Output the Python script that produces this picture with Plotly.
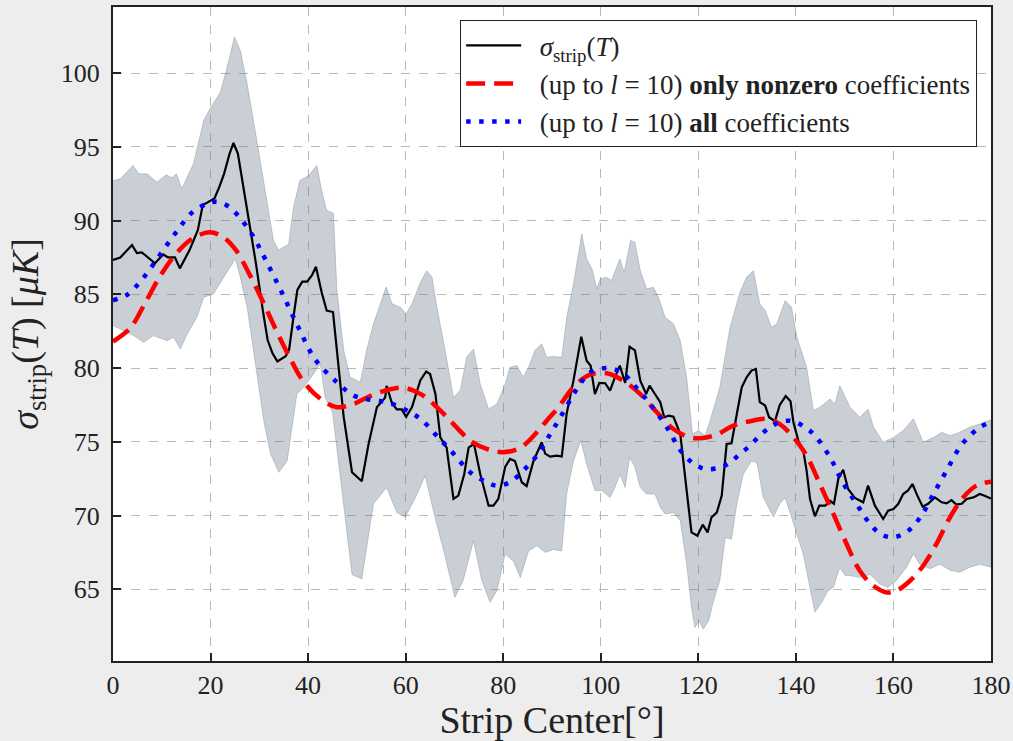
import plotly.graph_objects as go

# ---- data ----
black_x = [0, 1.5, 3.9, 4.9, 5.9, 8.6, 10.3, 11.3, 12.7, 13.7, 15.7, 17.4, 18.4, 19.5, 20.8, 21.8, 22.8, 23.9, 24.7, 25.6,
           26.6, 27.9, 29.3, 30.7, 31.7, 32.7, 33.7, 35.4, 36.1, 37.1, 37.8, 38.8, 39.8, 40.8, 41.6, 42.8, 43.8, 45.1, 45.9,
           47.3, 49.0, 51.0, 52.4, 54.1, 55.8, 56.1, 57.2, 58.2, 59.2, 60.1, 61.3, 63.0, 64.2, 65.0, 66.1, 67.1, 68.4, 69.8,
           70.8, 72.0, 72.9, 74.0, 75.3, 77.0, 78.0, 79.0, 80.4, 81.4, 82.4, 83.8, 84.8, 86.2, 87.9, 88.6, 89.6, 91.0, 92.0,
           93.0, 94.4, 96.0, 97.1, 97.9, 98.8, 99.7, 100.9, 101.9, 102.9, 103.9, 105.0, 105.9, 107.0, 108.1, 109.3, 110.0,
           111.1, 112.2, 113.0, 113.9, 114.9, 116.3, 117.6, 118.6, 119.8, 120.9, 121.9, 122.7, 123.8, 124.8, 125.8, 126.8,
           127.9, 128.9, 129.9, 130.9, 131.8, 132.6, 133.7, 134.5, 135.7, 136.7, 137.9, 138.9, 139.5, 140.5, 141.5, 142.2,
           142.9, 143.9, 144.8, 146.0, 147.0, 147.8, 148.7, 149.7, 150.7, 152.1, 153.8, 154.8, 156.2, 157.9, 158.9, 160.0,
           161.0, 162.0, 163.0, 163.9, 164.9, 166.0, 167.1, 168.5, 169.9, 170.9, 171.9, 172.9, 174.0, 175.0, 176.4, 177.7,
           178.7, 180.0]
black_y = [87.33, 87.5, 88.34, 87.8, 87.85, 87.1, 87.7, 87.5, 87.5, 86.76, 88.0, 89.36, 91.05, 91.27, 91.5, 92.29, 93.2,
           94.54, 95.26, 94.54, 92.5, 90.0, 87.1, 83.94, 81.9, 81.0, 80.45, 80.8, 81.25, 83.7, 85.3, 85.86, 85.86, 86.3,
           86.87, 85.1, 83.9, 83.8, 81.2, 76.67, 72.94, 72.33, 74.86, 77.35, 78.0, 78.8, 77.6, 77.2, 77.2, 76.7, 77.35,
           79.16, 79.77, 79.6, 78.25, 75.3, 74.6, 71.13, 71.35, 72.8, 74.6, 74.86, 72.8, 70.67, 70.67, 71.13, 73.3, 73.84,
           73.7, 72.26, 72.0, 73.7, 74.97, 74.2, 74.0, 74.06, 74.0, 76.9, 79.15, 82.13, 80.5, 80.17, 78.24, 79.0, 78.97,
           78.47, 79.37, 80.17, 79.0, 81.45, 81.2, 79.15, 78.24, 78.81, 78.24, 77.68, 76.66, 76.77, 76.7, 75.53, 71.7,
           68.86, 68.63, 69.38, 68.86, 69.88, 70.22, 71.35, 74.85, 74.9, 76.9, 78.7, 79.37, 79.83, 79.94, 77.69, 77.46,
           76.67, 76.4, 77.5, 78.1, 77.75, 76.3, 75.08, 74.4, 73.05, 71.12, 69.95, 70.67, 70.67, 71.0, 70.8, 72.5, 73.1,
           71.8, 71.2, 70.9, 72.03, 70.67, 69.77, 70.33, 70.44, 70.8, 71.46, 71.7, 72.14, 71.35, 70.6, 70.8, 71.23, 70.9,
           70.83, 71.05, 70.74, 70.8, 71.12, 71.23, 71.46, 71.35, 71.15]

upper_x = [0.0, 1.5, 4.1, 5.3, 7.0, 9.0, 10.9, 12.1, 13.0, 14.1, 16.5, 18.6, 19.9, 22.0, 23.4, 24.9, 26.1, 27.5, 29.5, 31.6,
           32.9, 33.9, 36.0, 37.0, 38.3, 40.1, 41.8, 42.8, 43.8, 45.2, 45.9, 47.3, 48.6, 50.7, 52.0, 53.4, 54.8, 56.0, 57.2,
           58.9, 60.1, 61.3, 63.0, 64.3, 65.4, 66.4, 68.1, 69.8, 71.2, 72.5, 73.9, 75.3, 77.0, 78.7, 80.4, 81.4, 82.8, 84.1,
           85.2, 86.5, 87.9, 88.9, 90.3, 92.0, 93.0, 94.4, 96.1, 97.1, 98.2, 99.2, 99.9, 101.2, 102.2, 103.9, 104.8, 106.1,
           107.0, 108.1, 109.4, 110.8, 111.8, 113.2, 114.9, 116.3, 117.6, 118.8, 120.0, 121.4, 122.4, 124.4, 126.5, 128.5,
           129.9, 131.3, 132.6, 133.7, 135.0, 136.1, 137.8, 139.1, 140.2, 141.5, 142.2, 143.6, 144.9, 147.0, 148.0, 149.0,
           151.1, 153.1, 154.8, 155.9, 157.9, 160.0, 162.0, 164.1, 166.1, 168.2, 169.9, 171.6, 173.6, 175.7, 177.7, 180.0]
upper_y = [92.7, 92.83, 93.74, 93.17, 93.17, 92.6, 93.1, 92.9, 93.17, 92.15, 93.85, 96.8, 97.58, 98.7, 100.4, 102.44,
           101.54, 99.28, 95.4, 91.36, 88.65, 88.0, 88.4, 90.9, 92.72, 93.06, 93.74, 92.0, 90.7, 90.5, 85.3, 81.2, 79.4,
           79.04, 81.2, 83.0, 84.36, 85.5, 84.36, 84.13, 83.68, 84.36, 85.8, 86.6, 86.17, 84.13, 81.2, 78.0, 78.5, 80.74,
           81.3, 78.9, 77.23, 77.57, 78.9, 80.06, 80.17, 79.4, 80.06, 81.2, 81.65, 80.73, 80.78, 80.73, 83.4, 85.7, 89.1,
           87.4, 86.72, 85.37, 86.05, 86.16, 85.93, 87.4, 86.5, 88.65, 88.53, 86.61, 85.37, 85.48, 84.8, 83.45, 83.0, 81.86,
           79.37, 75.53, 75.76, 75.42, 76.43, 78.7, 82.77, 85.1, 86.17, 86.6, 84.36, 83.9, 82.77, 83.0, 84.58, 84.13, 82.1,
           80.85, 80.06, 77.12, 77.35, 77.9, 77.57, 78.8, 77.35, 76.67, 77.23, 76.0, 74.97, 75.3, 75.76, 76.56, 74.97, 75.3,
           75.65, 75.42, 75.65, 76.0, 76.2, 76.5]

lower_x = [0.0, 2.9, 4.2, 6.3, 8.3, 11.1, 12.4, 13.8, 15.2, 17.2, 18.6, 20.6, 22.7, 24.0, 25.1, 26.1, 27.5, 28.8, 30.9, 32.3,
           34.0, 35.7, 36.7, 37.7, 39.1, 41.1, 42.5, 43.5, 45.0, 49.0, 51.0, 53.4, 56.1, 58.2, 59.9, 62.0, 64.0, 66.0, 67.8,
           70.1, 71.8, 73.9, 75.6, 77.3, 78.7, 80.4, 82.1, 83.5, 85.2, 86.9, 88.6, 90.3, 92.0, 93.0, 94.4, 95.9, 97.1, 98.8,
           100.2, 101.9, 102.9, 103.9, 105.0, 105.9, 107.0, 108.1, 109.4, 111.1, 112.2, 113.2, 114.9, 116.3, 117.6, 118.6,
           119.3, 120.2, 121.0, 122.1, 123.1, 124.4, 125.5, 126.8, 127.9, 129.2, 130.9, 132.0, 133.3, 135.4, 136.7, 137.8,
           139.1, 141.5, 142.9, 143.9, 145.3, 146.6, 147.7, 149.0, 150.1, 151.1, 153.1, 155.2, 157.2, 158.9, 160.6, 162.7,
           164.1, 165.4, 167.5, 169.5, 171.6, 173.6, 175.7, 177.7, 180.0]
lower_y = [82.88, 82.43, 82.2, 81.75, 82.2, 81.86, 82.1, 81.3, 82.3, 83.45, 84.8, 85.03, 86.16, 86.84, 87.4, 86.16, 84.13,
           81.0, 76.44, 74.18, 72.93, 73.7, 75.99, 78.25, 78.7, 79.6, 80.3, 78.0, 77.0, 66.0, 65.7, 70.8, 71.9, 70.2, 69.9,
           71.2, 72.7, 69.9, 67.6, 64.46, 65.6, 68.3, 65.6, 64.12, 64.9, 67.4, 66.9, 65.8, 67.6, 67.96, 67.5, 67.7, 67.6,
           71.46, 73.7, 75.08, 73.5, 71.7, 71.7, 71.23, 71.9, 72.8, 71.9, 73.95, 73.27, 71.9, 71.46, 71.46, 70.56, 70.1, 70.2,
           69.65, 66.7, 63.77, 62.41, 62.86, 62.3, 62.86, 64.2, 65.58, 68.5, 68.4, 70.8, 72.8, 73.7, 73.6, 71.24, 69.9, 70.8,
           71.2, 69.9, 67.4, 65.14, 63.44, 64.12, 64.91, 65.14, 66.5, 65.93, 65.93, 65.8, 66.0, 65.36, 65.14, 65.6, 66.5,
           67.4, 66.7, 66.4, 66.7, 66.3, 66.15, 66.5, 66.7, 66.5]

red_x = [0, 3.5, 6.2, 9.6, 13.0, 16.4, 19.8, 22.5, 25.2, 27.9, 30.6, 33.4, 36.1, 38.8, 42.2, 45.9, 49.3, 52.7, 56.1, 59.6,
         63.0, 66.4, 69.8, 73.2, 76.6, 80.0, 83.5, 86.9, 89.6, 91.0, 94.4, 97.8, 101.2, 104.6, 108.1, 111.5, 114.9, 118.3,
         121.0, 123.8, 127.2, 130.6, 134.0, 136.7, 139.5, 142.2, 144.9, 147.7, 150.4, 153.1, 155.9, 158.6, 160.6, 163.4,
         166.1, 168.8, 171.6, 174.3, 177.0, 180.0]
red_y = [81.8, 82.7, 84.17, 86.2, 87.78, 88.8, 89.2, 88.9, 88.0, 86.4, 84.6, 82.6, 80.8, 79.2, 78.0, 77.35, 77.57, 78.1,
         78.5, 78.66, 78.25, 77.35, 76.2, 75.1, 74.52, 74.3, 74.6, 75.65, 76.7, 77.2, 78.7, 79.55, 79.65, 79.15, 78.24,
         77.0, 75.87, 75.3, 75.26, 75.5, 76.1, 76.4, 76.55, 76.2, 75.3, 74.06, 72.14, 70.1, 68.07, 66.26, 65.24, 64.79,
         64.9, 65.58, 66.6, 68.07, 69.88, 71.23, 72.03, 72.3]

blue_x = [0, 2.8, 6.2, 9.6, 13.0, 16.4, 19.8, 21.2, 23.2, 25.2, 28.6, 31.3, 34.7, 38.1, 41.5, 45.9, 49.3, 52.7, 56.1, 59.6,
          63.0, 66.4, 69.8, 73.2, 76.6, 78.7, 81.4, 84.1, 86.9, 89.6, 92.3, 95.1, 97.8, 101.2, 104.3, 106.7, 110.1, 113.5,
          116.9, 119.7, 121.7, 124.5, 126.5, 128.5, 130.6, 132.6, 134.7, 137.1, 139.5, 141.9, 143.9, 147.0, 149.4, 152.4,
          155.2, 157.2, 159.6, 162.0, 164.1, 166.1, 168.2, 170.9, 173.6, 175.7, 177.7, 180.0]
blue_y = [84.6, 84.95, 86.1, 87.66, 89.24, 90.6, 91.2, 91.27, 91.05, 90.5, 89.0, 87.33, 85.07, 82.7, 80.56, 79.04, 78.14,
          77.85, 77.69, 77.23, 76.56, 75.4, 74.2, 72.94, 72.26, 72.03, 72.26, 73.05, 74.07, 75.5, 77.0, 78.58, 79.7, 80.0,
          79.7, 78.9, 77.57, 76.0, 74.17, 73.38, 73.15, 73.27, 73.6, 74.17, 74.74, 75.42, 75.98, 76.39, 76.39, 75.98, 75.42,
          73.95, 72.37, 70.8, 69.43, 68.79, 68.52, 68.75, 69.3, 70.2, 71.46, 73.05, 74.63, 75.42, 75.98, 76.35]

x_ticks = [0, 20, 40, 60, 80, 100, 120, 140, 160, 180]
y_ticks = [65, 70, 75, 80, 85, 90, 95, 100]

FONT = "Liberation Serif"
SP = "&nbsp;&nbsp;"

fig = go.Figure()

# shaded band (upper path then lower path reversed)
fig.add_trace(go.Scatter(
    x=upper_x + lower_x[::-1], y=upper_y + lower_y[::-1],
    fill="toself", fillcolor="rgba(112,128,144,0.38)",
    line=dict(color="rgba(112,128,144,0.45)", width=0.8),
    mode="lines", showlegend=False, hoverinfo="skip"))

fig.add_trace(go.Scatter(
    x=black_x, y=black_y, mode="lines",
    line=dict(color="black", width=2.2),
    name=SP + "<i>σ</i><sub>strip</sub>(<i>T</i>)", legendgroup="a"))

fig.add_trace(go.Scatter(
    x=red_x, y=red_y, mode="lines", line_shape="spline",
    line=dict(color="#ff0000", width=4.5, dash="19px,9px"),
    name=SP + "(up to <i>l</i> = 10) <b>only nonzero</b> coefficients", legendgroup="b"))

fig.add_trace(go.Scatter(
    x=blue_x, y=blue_y, mode="lines", line_shape="spline",
    line=dict(color="#0000ff", width=4.5, dash="4.5px,8.5px"),
    name=SP + "(up to <i>l</i> = 10) <b>all</b> coefficients", legendgroup="c"))

axis_common = dict(
    showline=True, linecolor="#222222", linewidth=2, mirror=True,
    ticks="inside", ticklen=8, tickwidth=1.6, tickcolor="#222222",
    showgrid=True, gridcolor="#b8b8b8", gridwidth=1, griddash="dash",
    zeroline=False, tickfont=dict(family=FONT, size=26, color="#222222"),
    automargin=False,
)

fig.update_layout(
    width=1013, height=741,
    paper_bgcolor="#ededed", plot_bgcolor="white",
    margin=dict(l=113, r=22, t=7, b=80),
    font=dict(family=FONT, color="#222222"),
    xaxis=dict(range=[0, 180], tickvals=x_ticks, ticklabelstandoff=0,
               title=dict(text="Strip Center[°]", font=dict(family=FONT, size=38), standoff=2),
               **axis_common),
    yaxis=dict(range=[60.14, 104.48], tickvals=y_ticks, ticklabelstandoff=6,
               title=dict(text="<i>σ</i><sub>strip</sub>(<i>T</i>) [<i>μK</i>]",
                          font=dict(family=FONT, size=38), standoff=10),
               **axis_common),
    legend=dict(x=0.984, y=0.980, xanchor="right", yanchor="top",
                bgcolor="white", bordercolor="#222222", borderwidth=1.2,
                font=dict(family=FONT, size=27, color="#222222"),
                itemwidth=55, tracegroupgap=1, traceorder="normal"),
)

fig.write_html("out.html")
